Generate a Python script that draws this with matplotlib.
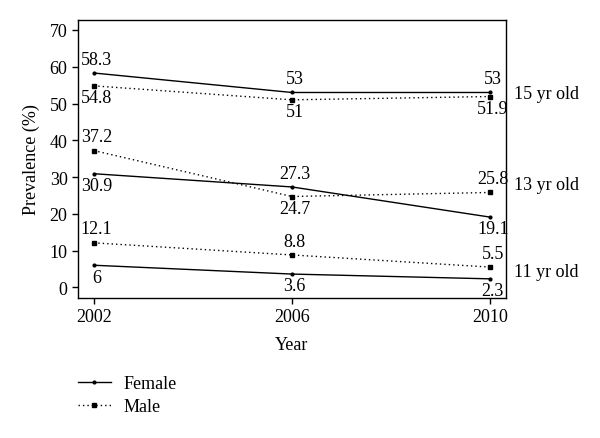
import matplotlib
matplotlib.use("Agg")
import matplotlib.pyplot as plt

years = [2002, 2006, 2010]
groups = ["15 yr old", "13 yr old", "11 yr old"]
female = {"15 yr old": [58.3, 53, 53], "13 yr old": [30.9, 27.3, 19.1], "11 yr old": [6, 3.6, 2.3]}
male = {"15 yr old": [54.8, 51, 51.9], "13 yr old": [37.2, 24.7, 25.8], "11 yr old": [12.1, 8.8, 5.5]}
# label above (True) or below (False) for each point
female_above = {"15 yr old": [True, True, True], "13 yr old": [False, True, False], "11 yr old": [False, False, False]}
male_above = {"15 yr old": [False, False, False], "13 yr old": [True, False, True], "11 yr old": [True, True, True]}
group_label_y = {"15 yr old": 52.6, "13 yr old": 28.1, "11 yr old": 4.2}

plt.rcParams['font.family'] = ['Liberation Serif', 'DejaVu Serif']
fs = 13

fig = plt.figure(figsize=(6, 4.39), dpi=100)
ax = fig.add_axes([0.13, 0.319, 0.713, 0.633])

def fmt(v):
    return ("%g" % v)

for g in groups:
    lf, = ax.plot(years, female[g], color='black', lw=1.0, linestyle='-', marker='o', markersize=2)
    lm, = ax.plot(years, male[g], color='black', lw=1.0, linestyle=(0, (1, 2.2)), marker='s', markersize=2.8)
    for x, v, up in zip(years, female[g], female_above[g]):
        ax.annotate(fmt(v), (x, v), xytext=(2, 10 if up else -8.5), textcoords='offset points',
                    ha='center', va='center', fontsize=fs)
    for x, v, up in zip(years, male[g], male_above[g]):
        ax.annotate(fmt(v), (x, v), xytext=(2, 10 if up else -8.5), textcoords='offset points',
                    ha='center', va='center', fontsize=fs)
    ax.text(1.02, group_label_y[g], g, transform=ax.get_yaxis_transform(),
            ha='left', va='center', fontsize=fs)

ax.set_xlim(2001.68, 2010.32)
ax.set_ylim(-2.9, 72.7)
ax.set_xticks(years)
ax.set_yticks(range(0, 71, 10))
ax.tick_params(direction='out', length=4.5, width=1, labelsize=fs, pad=3)
for s in ax.spines.values():
    s.set_linewidth(1.0)
ax.set_xlabel("Year", fontsize=fs, labelpad=8)
ax.set_ylabel("Prevalence (%)", fontsize=fs, labelpad=7)

fig.legend([lf, lm], ["Female", "Male"], loc='upper left', bbox_to_anchor=(0.118, 0.16),
           frameon=False, fontsize=fs, handlelength=1.8, handletextpad=0.7, labelspacing=0.35,
           borderaxespad=0)

fig.savefig("out.png", dpi=100)
